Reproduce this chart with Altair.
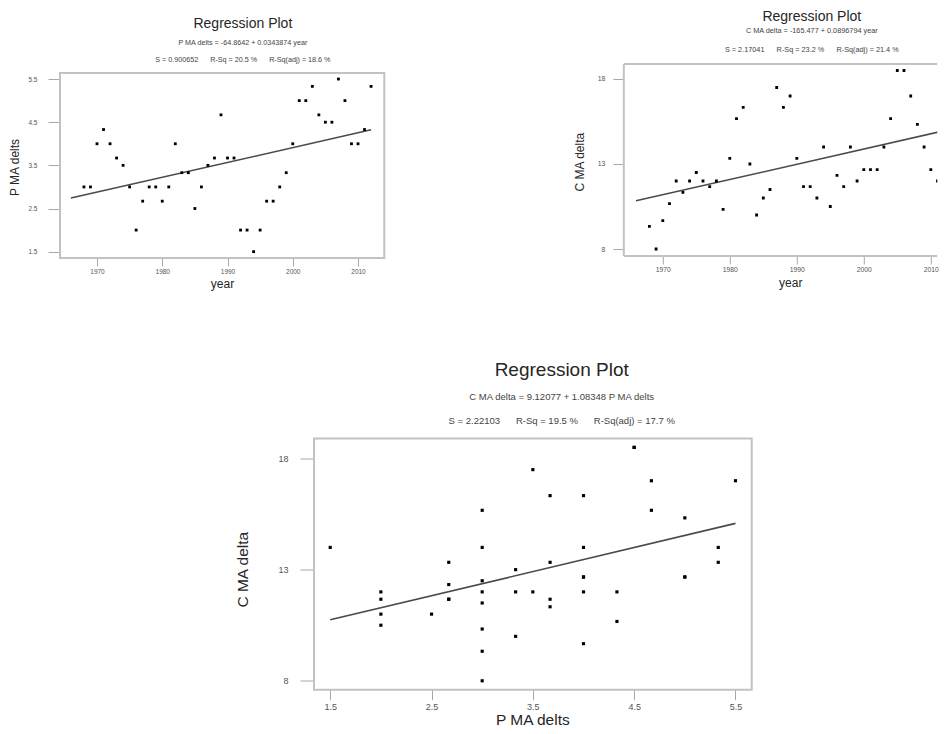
import altair as alt
import pandas as pd

# ---------------- data ----------------
years = list(range(1968, 2013))
p_ma_delts = [3.0, 3.0, 4.0, 4.33, 4.0, 3.67, 3.5, 3.0, 2.0, 2.67,
              3.0, 3.0, 2.67, 3.0, 4.0, 3.33, 3.33, 2.5, 3.0, 3.5,
              3.67, 4.67, 3.67, 3.67, 2.0, 2.0, 1.5, 2.0, 2.67, 2.67,
              3.0, 3.33, 4.0, 5.0, 5.0, 5.33, 4.67, 4.5, 4.5, 5.5,
              5.0, 4.0, 4.0, 4.33, 5.33]
c_ma_delta = [9.33, 8.0, 9.67, 10.67, 12.0, 11.33, 12.0, 12.5, 12.0, 11.67,
              12.0, 10.33, 13.33, 15.67, 16.33, 13.0, 10.0, 11.0, 11.5, 17.5,
              16.33, 17.0, 13.33, 11.67, 11.67, 11.0, 14.0, 10.5, 12.33, 11.67,
              14.0, 12.0, 12.67, 12.67, 12.67, 14.0, 15.67, 18.5, 18.5, 17.0,
              15.33, 14.0, 12.67, 12.0, 13.33]

# fitted equations shown in the subtitles
fit_p_year = (-64.8642, 0.0343874)
fit_c_year = (-165.477, 0.0896794)
fit_c_p = (9.12077, 1.08348)
fit_year_range = [1966, 2012]
fit_p_range = [1.5, 5.5]

year_ticks = [1970, 1980, 1990, 2000, 2010]
p_ticks = [1.5, 2.5, 3.5, 4.5, 5.5]
c_ticks = [8, 13, 18]

title_text = "Regression Plot"
NB = "\u00a0"
GAP = NB * 6
sub_a = ["P MA delts = -64.8642 + 0.0343874 year",
         f"S = 0.900652{GAP}R-Sq = 20.5 %{GAP}R-Sq(adj) = 18.6 %"]
sub_b = ["C MA delta = -165.477 + 0.0896794 year",
         f"S = 2.17041{GAP}R-Sq = 23.2 %{GAP}R-Sq(adj) = 21.4 %"]
sub_c = ["C MA delta = 9.12077 + 1.08348 P MA delts",
         f"S = 2.22103{GAP}R-Sq = 19.5 %{GAP}R-Sq(adj) = 17.7 %"]

# ---------------- tables ----------------
df = pd.DataFrame({"year": years, "p": p_ma_delts, "c": c_ma_delta})

line_a = pd.DataFrame({"year": fit_year_range})
line_a["p"] = fit_p_year[0] + fit_p_year[1] * line_a["year"]
line_b = pd.DataFrame({"year": fit_year_range})
line_b["c"] = fit_c_year[0] + fit_c_year[1] * line_b["year"]
line_c = pd.DataFrame({"p": fit_p_range})
line_c["c"] = fit_c_p[0] + fit_c_p[1] * line_c["p"]

one = pd.DataFrame({"k": [0]})

FONT = "Liberation Sans"
FRAME = "#c2c2c2"
TICK = "#a8a8a8"
TXT = "#262626"
LAB = "#555555"
LINE = "#4a4a4a"


def make_title(sub, size, subsize, lh, pad, off, dx):
    return alt.Title(text=title_text, subtitle=sub, anchor="middle", frame="group",
                     fontSize=size, font=FONT, fontWeight="normal", color=TXT,
                     subtitleFont=FONT, subtitleFontSize=subsize, subtitleColor="#444444",
                     subtitleLineHeight=lh, subtitlePadding=pad, offset=off, dx=dx)


# ---------------- panel A : P vs year ----------------
WA, HA, TOPA = 324.3, 194, 9
xA = alt.X("year:Q", scale=alt.Scale(domain=[1964.33, 2014.03], nice=False, zero=False),
           axis=alt.Axis(values=year_ticks, format="d", title="year", tickSize=8,
                         labelPadding=2, labelFontSize=6.5, titleFontSize=12,
                         titleX=162, titleY=25, titleBaseline="middle"))
yA = alt.Y("p:Q", scale=alt.Scale(domain=[1.353, 5.64], range=[HA, TOPA], nice=False, zero=False),
           axis=alt.Axis(values=p_ticks, format=".1f", title="P MA delts", tickSize=12,
                         labelPadding=11, labelFontSize=6.5, titleFontSize=12,
                         titleX=-45.7, titleY=103, titleBaseline="middle"))
frameA = alt.Chart(one).mark_rect(fill=None, stroke=FRAME, strokeWidth=2).encode(
    x=alt.value(0), x2=alt.value(WA), y=alt.value(TOPA), y2=alt.value(HA))
lineA = alt.Chart(line_a).mark_line(color=LINE, strokeWidth=1.5).encode(x=xA, y=yA)
ptsA = alt.Chart(df).mark_square(color="black", size=8, opacity=1).encode(x=xA, y=yA)
chartA = alt.layer(frameA, lineA, ptsA).properties(
    width=WA, height=HA, title=make_title(sub_a, 14, 7.2, 17.2, 7.9, 0.5, 20.7))

# ---------------- panel B : C vs year (cut off at the right edge) ----------------
WB, HB = 313.5, 192
xB = alt.X("year:Q", scale=alt.Scale(domain=[1964.18, 1964.18 + WB / 6.70], nice=False, zero=False),
           axis=alt.Axis(values=year_ticks, format="d", title="year", tickSize=8,
                         labelPadding=2, labelFontSize=6.8, titleFontSize=12,
                         titleX=166.4, titleY=26.7, titleBaseline="middle"))
yB = alt.Y("c:Q", scale=alt.Scale(domain=[7.59, 18.88], nice=False, zero=False),
           axis=alt.Axis(values=c_ticks, format="d", title="C MA delta", tickSize=11,
                         labelPadding=8, labelFontSize=6.8, titleFontSize=12,
                         titleX=-44.3, titleY=97.7, titleBaseline="middle"))
frameB_left = alt.Chart(one).mark_rule(stroke=FRAME, strokeWidth=2).encode(
    x=alt.value(0), y=alt.value(0), y2=alt.value(HB))
frameB_top = alt.Chart(one).mark_rule(stroke=FRAME, strokeWidth=2).encode(
    x=alt.value(0), x2=alt.value(WB), y=alt.value(0))
frameB_bot = alt.Chart(one).mark_rule(stroke=FRAME, strokeWidth=2).encode(
    x=alt.value(0), x2=alt.value(WB), y=alt.value(HB))
lineB = alt.Chart(line_b).mark_line(color=LINE, strokeWidth=1.5, clip=True).encode(x=xB, y=yB)
ptsB = alt.Chart(df).mark_square(color="black", size=8, opacity=1, clip=True).encode(x=xB, y=yB)
chartB = alt.layer(frameB_left, frameB_top, frameB_bot, lineB, ptsB).properties(
    width=WB, height=HB, title=make_title(sub_b, 14, 7.3, 18.5, 3.0, 10.0, 31.25))

# ---------------- panel C : C vs P ----------------
WC, HC = 437.7, 251.2
xC = alt.X("p:Q", scale=alt.Scale(domain=[1.34, 5.66], nice=False, zero=False),
           axis=alt.Axis(values=p_ticks, format=".1f", title="P MA delts", tickSize=10,
                         labelPadding=3, labelFontSize=9, titleFontSize=15.5,
                         titleX=218.3, titleY=29.5, titleBaseline="middle"))
yC = alt.Y("c:Q", scale=alt.Scale(domain=[7.6, 18.9], nice=False, zero=False),
           axis=alt.Axis(values=c_ticks, format="d", title="C MA delta", tickSize=14,
                         labelPadding=12, labelFontSize=9, titleFontSize=15.5,
                         titleX=-72, titleY=130.7, titleBaseline="middle"))
frameC = alt.Chart(one).mark_rect(fill=None, stroke=FRAME, strokeWidth=2).encode(
    x=alt.value(0), x2=alt.value(WC), y=alt.value(0), y2=alt.value(HC))
lineC = alt.Chart(line_c).mark_line(color=LINE, strokeWidth=1.7).encode(x=xC, y=yC)
ptsC = alt.Chart(df).mark_square(color="black", size=10, opacity=1).encode(x=xC, y=yC)
chartC = alt.layer(frameC, lineC, ptsC).properties(
    width=WC, height=HC, title=make_title(sub_c, 19, 9.5, 24.2, 11.5, 12, 28.85))

spacer = alt.Chart(one).mark_point(opacity=0).encode(
    x=alt.value(0), y=alt.value(0)).properties(width=174.5, height=1)

top = alt.hconcat(chartA, chartB, spacing=186.8)
bottom = alt.hconcat(spacer, chartC, spacing=0)

chart = alt.vconcat(top, bottom, spacing=71.5).properties(
    padding={"left": 0, "top": 2, "right": 0, "bottom": -1}, background="white"
).configure_view(stroke=None).configure_axis(
    domain=False, grid=False, labelFont=FONT, titleFont=FONT, labelColor=LAB,
    titleColor=TXT, titleFontWeight="normal", tickColor=TICK, tickWidth=1,
    labelFlush=False, labelOverlap=False
)

chart.save("out.html", embed_options={"renderer": "svg", "actions": False})
